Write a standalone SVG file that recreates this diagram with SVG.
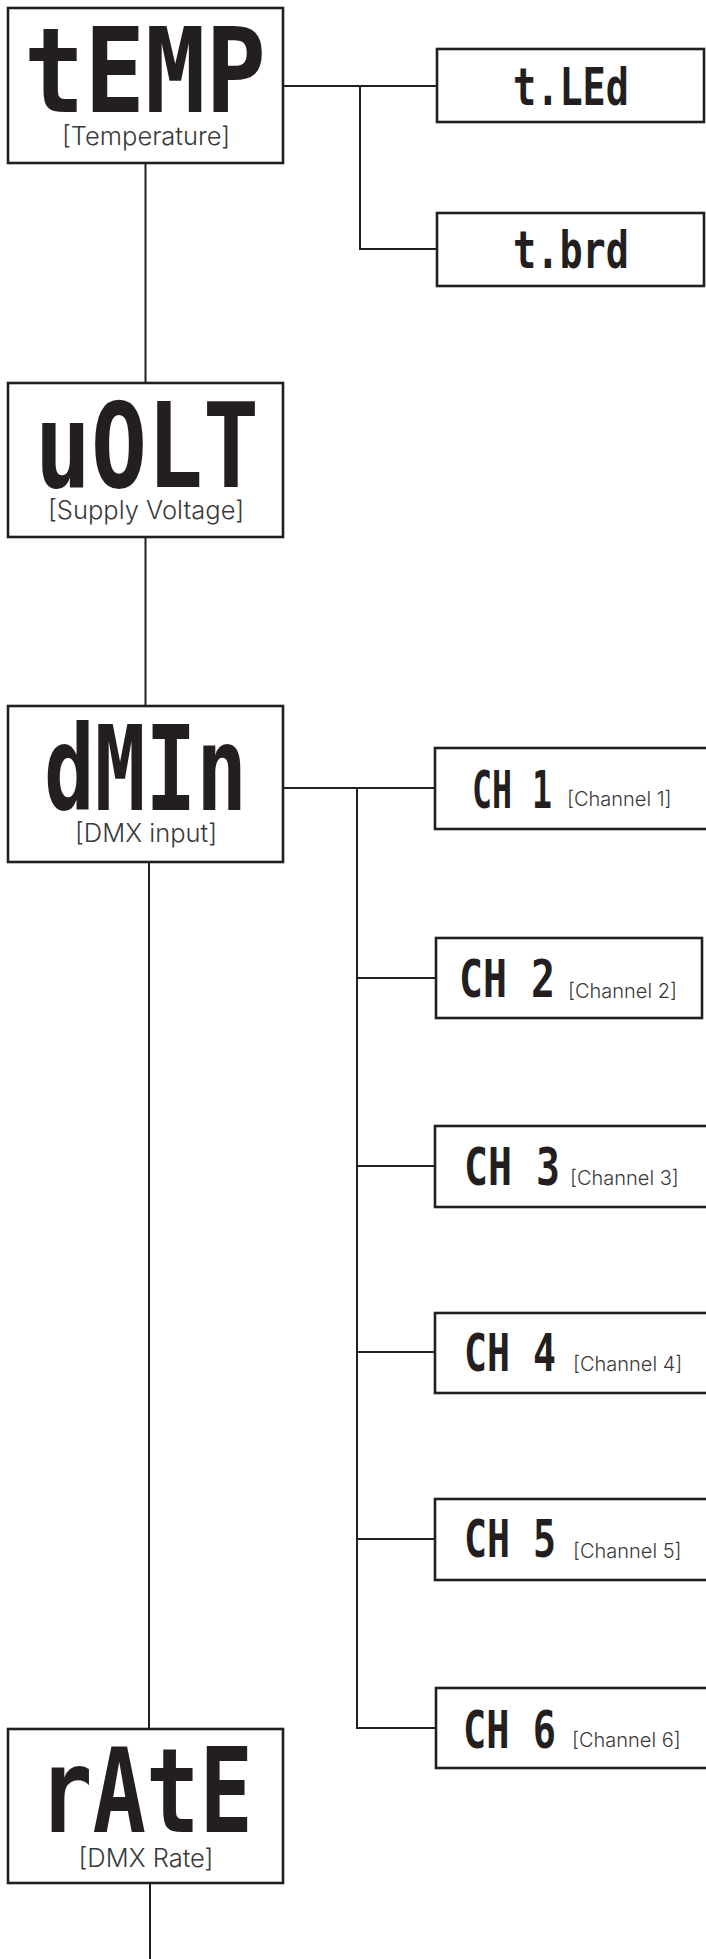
<svg xmlns="http://www.w3.org/2000/svg" width="706" height="1959" viewBox="0 0 706 1959">
<style>
.box{fill:#fff;stroke:#231f20;stroke-width:2.6}
.seg{font-family:"DejaVu Sans Mono","Liberation Mono",monospace;fill:#231f20;font-weight:bold}
.big{font-size:117px}
.small{font-size:52px}
.lbl{font-family:Inter,"Noto Sans","Liberation Sans",sans-serif;font-weight:300;fill:#3a3a3a}
.lblb{font-size:25.5px;text-anchor:middle}
.lbls{font-size:20px}
#connectors path{fill:none;stroke:#231f20;stroke-width:2}
</style>
<rect width="706" height="1959" fill="#fff"/>
<g id="connectors">
<path d="M145.5 163V383M145.5 537V706M149 862V1729M150 1883V1959"/>
<path d="M283 86H437M360 86V249H437"/>
<path d="M283 788H435M357 788V1728H436M357 978H436M357 1166H435M357 1352H435M357 1539H435"/>
</g>
<g id="temp">
<rect class="box" x="8" y="8" width="275" height="155"/>
<text class="seg big" transform="translate(24 112) scale(0.859 1)">tEMP</text>
<text class="lbl lblb" x="146" y="145">[Temperature]</text>
</g>
<g id="tled">
<rect class="box" x="437" y="49" width="267" height="73"/>
<text class="seg small" transform="translate(513 105) scale(0.741 1)">t.LEd</text>
</g>
<g id="tbrd">
<rect class="box" x="437" y="213" width="267" height="73"/>
<text class="seg small" transform="translate(513 268) scale(0.741 1)">t.brd</text>
</g>
<g id="volt">
<rect class="box" x="8" y="383" width="275" height="154"/>
<text class="seg big" transform="translate(35 487) scale(0.795 1)">uOLT</text>
<text class="lbl lblb" x="146" y="519">[Supply Voltage]</text>
</g>
<g id="dmin">
<rect class="box" x="8" y="706" width="275" height="156"/>
<text class="seg big" transform="translate(44 810) scale(0.72 1)">dMIn</text>
<text class="lbl lblb" x="146" y="842">[DMX input]</text>
</g>
<g id="ch1">
<rect class="box" x="435" y="748" width="285" height="81"/>
<text class="seg small" transform="translate(472 808) scale(0.64 1)">CH 1</text>
<text class="lbl lbls" x="567" y="806">[Channel 1]</text>
</g>
<g id="ch2">
<rect class="box" x="436" y="938" width="266" height="80"/>
<text class="seg small" transform="translate(459 997) scale(0.767 1)">CH 2</text>
<text class="lbl lbls" x="568" y="998">[Channel 2]</text>
</g>
<g id="ch3">
<rect class="box" x="435" y="1126" width="285" height="81"/>
<text class="seg small" transform="translate(464 1185) scale(0.767 1)">CH 3</text>
<text class="lbl lbls" x="570" y="1185">[Channel 3]</text>
</g>
<g id="ch4">
<rect class="box" x="435" y="1313" width="285" height="80"/>
<text class="seg small" transform="translate(464 1371) scale(0.735 1)">CH 4</text>
<text class="lbl lbls" x="573" y="1371">[Channel 4]</text>
</g>
<g id="ch5">
<rect class="box" x="435" y="1499" width="285" height="81"/>
<text class="seg small" transform="translate(464 1557) scale(0.735 1)">CH 5</text>
<text class="lbl lbls" x="573" y="1558">[Channel 5]</text>
</g>
<g id="ch6">
<rect class="box" x="436" y="1688" width="284" height="80"/>
<text class="seg small" transform="translate(463 1748) scale(0.743 1)">CH 6</text>
<text class="lbl lbls" x="572" y="1747">[Channel 6]</text>
</g>
<g id="rate">
<rect class="box" x="8" y="1729" width="275" height="154"/>
<text class="seg big" transform="translate(39 1832) scale(0.76 1)">rAtE</text>
<text class="lbl lblb" x="146" y="1867">[DMX Rate]</text>
</g>
</svg>
